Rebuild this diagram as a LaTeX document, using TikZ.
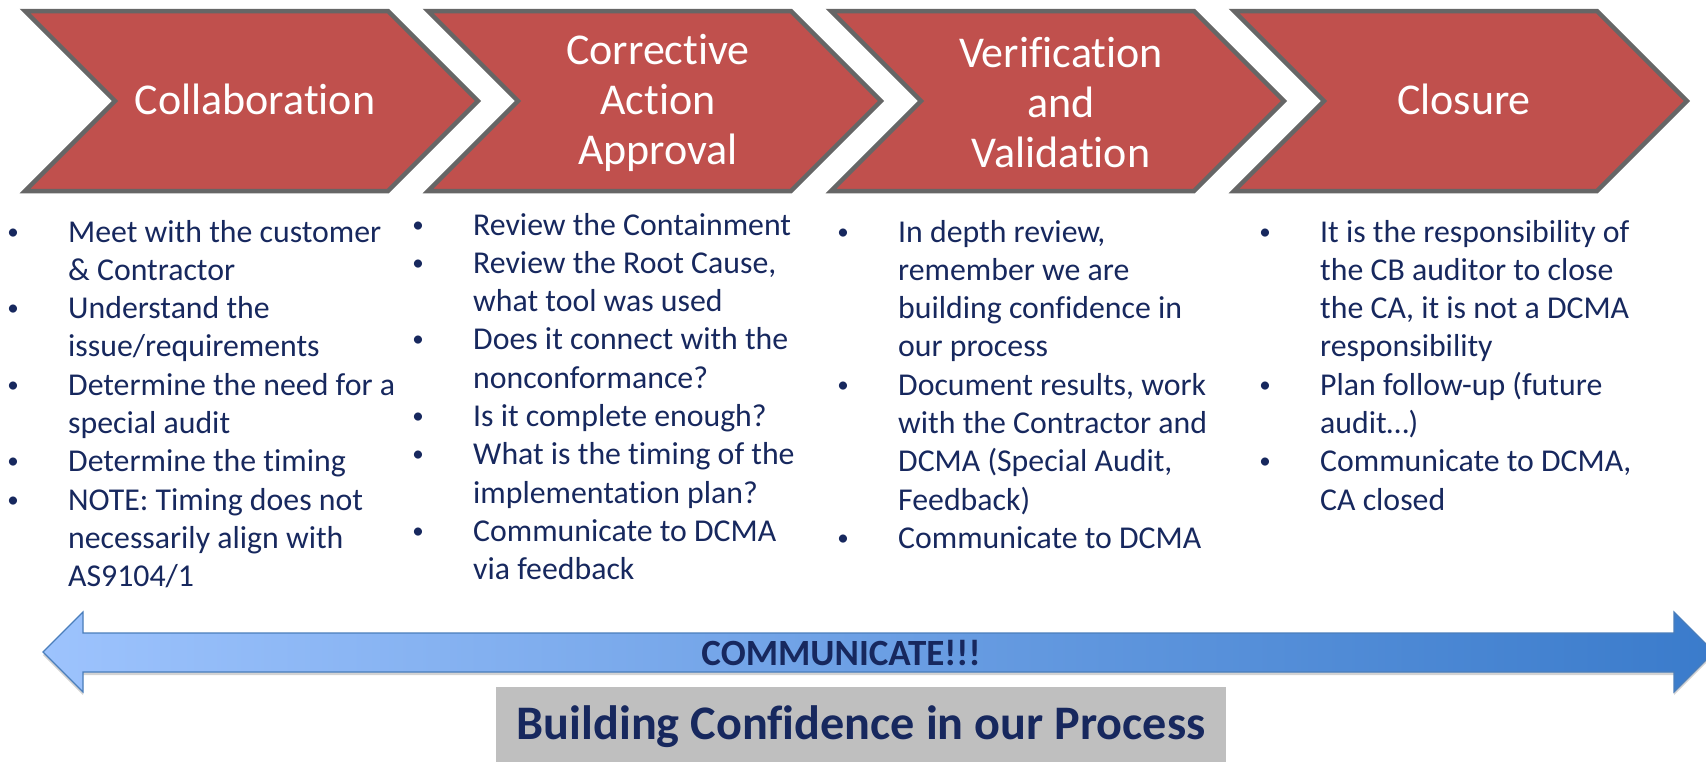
\documentclass[tikz,border=0pt]{standalone}
\usepackage{fontspec}
\setmainfont{Carlito}[Ligatures=NoCommon]
\usepackage{xcolor}
\usepackage{tikz}
\usetikzlibrary{calc,shadows,positioning}

\definecolor{chevfill}{HTML}{C0504D}
\definecolor{chevline}{HTML}{666666}
\definecolor{navy}{HTML}{17285E}
\definecolor{arrowleft}{HTML}{9DC3FD}
\definecolor{arrowright}{HTML}{3A7BCB}
\definecolor{arrowline}{HTML}{4A7EBB}
\definecolor{mottogray}{HTML}{BFBFBF}

% small bullet centred on the left edge of a 55pt box
\newcommand{\bul}{\makebox[55pt][l]{\makebox[0pt]{\raisebox{3pt}{\fontsize{23}{23}\selectfont\textbullet}}}}

\begin{document}
\begin{tikzpicture}[x=1pt,y=-1pt,
chevron/.style={draw=chevline, line width=4.5pt, fill=chevfill},
chevtext/.style={text=white, align=center, inner sep=0pt, font=\fontsize{44}{50}\selectfont},
listbox/.style={anchor=base west, inner sep=0pt, text=navy, font=\fontsize{31.8}{38.3}\selectfont},
commarrow/.style={draw=arrowline, line width=1.2pt, left color=arrowleft, right color=arrowright,
  drop shadow={shadow xshift=0pt, shadow yshift=-3pt, opacity=0.35}},
commtext/.style={text=navy, inner sep=0pt, font=\bfseries\fontsize{37}{40}\selectfont},
motto/.style={fill=mottogray, minimum width=730pt, minimum height=80pt, inner sep=0pt,
  text=navy, font=\bfseries\fontsize{48.2}{52}\selectfont}]

    \useasboundingbox (0,0) rectangle (1706,761);

    \foreach \i/\nm/\ty/\txt in {0/collab/99/Collaboration, 1/approve/103/{Corrective\\Action\\Approval},
                                 2/verify/103/{Verification\\and\\Validation}, 3/closure/99/Closure}{
        \begin{scope}[xshift=403*\i]
        \draw[chevron] (25,11) -- ++(363,0) -- ++(90,90) -- ++(-90,90) -- ++(-363,0) -- ++(90,-90) -- cycle;
        \node[chevtext] (\nm) at (255,\ty) {\txt};
        \end{scope}
    }

    \node[listbox] (collabtasks) at (13,242) {\begin{tabular}[t]{@{}l@{}l@{}}
        \bul & Meet with the customer\\
             & \& Contractor\\
        \bul & Understand the\\
             & issue/requirements\\
        \bul & Determine the need for a\\
             & special audit\\
        \bul & Determine the timing\\
        \bul & NOTE: Timing does not\\
             & necessarily align with\\
             & AS9104/1
    \end{tabular}};

    \node[listbox] (approvetasks) at (418,235) {\begin{tabular}[t]{@{}l@{}l@{}}
        \bul & Review the Containment\\
        \bul & Review the Root Cause,\\
             & what tool was used\\
        \bul & Does it connect with the\\
             & nonconformance?\\
        \bul & Is it complete enough?\\
        \bul & What is the timing of the\\
             & implementation plan?\\
        \bul & Communicate to DCMA\\
             & via feedback
    \end{tabular}};

    \node[listbox] (verifytasks) at (843,242) {\begin{tabular}[t]{@{}l@{}l@{}}
        \bul & In depth review,\\
             & remember we are\\
             & building confidence in\\
             & our process\\
        \bul & Document results, work\\
             & with the Contractor and\\
             & DCMA (Special Audit,\\
             & Feedback)\\
        \bul & Communicate to DCMA
    \end{tabular}};

    \node[listbox] (closuretasks) at (1265,242) {\begin{tabular}[t]{@{}l@{}l@{}}
        \bul & It is the responsibility of\\
             & the CB auditor to close\\
             & the CA, it is not a DCMA\\
             & responsibility\\
        \bul & Plan follow-up (future\\
             & audit\dots)\\
        \bul & Communicate to DCMA,\\
             & CA closed
    \end{tabular}};

    % two-headed band under the columns
    \draw[commarrow] (43,652) -- (83,612) -- (83,633) -- (1674,633) -- (1674,612) -- (1714,652)
        -- (1674,692) -- (1674,672) -- (83,672) -- (83,692) -- cycle;
    \node[commtext] (comm) at (841,653) {COMMUNICATE!!!};

    \node[motto] (motto) at (861,727) {Building Confidence in our Process};
\end{tikzpicture}
\end{document}
